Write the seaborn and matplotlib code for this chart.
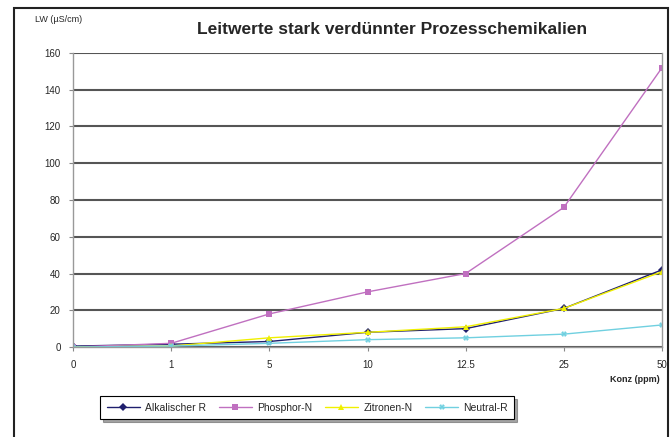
import pandas as pd
import matplotlib.pyplot as plt
import seaborn as sns
from matplotlib.patches import Rectangle

# concentrations (ppm) - shown as evenly spaced categories
konz = ["0", "1", "5", "10", "12.5", "25", "50"]

# conductivity values in uS/cm
alkalischer_r = [0.5, 1.5, 3, 8, 10, 21, 42]
phosphor_n = [0, 2, 18, 30, 40, 76, 152]
zitronen_n = [0, 0.5, 5, 8, 11, 21, 41]
neutral_r = [0, 0.5, 2, 4, 5, 7, 12]

series = ["Alkalischer R", "Phosphor-N", "Zitronen-N", "Neutral-R"]
values = [alkalischer_r, phosphor_n, zitronen_n, neutral_r]

records = []
for name, vals in zip(series, values):
    for i, (k, v) in enumerate(zip(konz, vals)):
        records.append({"pos": i, "Konz": k, "LW": v, "Serie": name})
df = pd.DataFrame(records)

sns.set_style("white")
plt.rcParams['font.family'] = ['Liberation Sans', 'DejaVu Sans']

fig = plt.figure(figsize=(6.71, 4.37), dpi=100)
ax = fig.add_axes([73 / 671, 1 - 347 / 437, (662 - 73) / 671, (347 - 53) / 437])

palette = {"Alkalischer R": "#1f1f6e", "Phosphor-N": "#c070c0",
           "Zitronen-N": "#f0f000", "Neutral-R": "#70d0e0"}
markers = {"Alkalischer R": "D", "Phosphor-N": "s",
           "Zitronen-N": "^", "Neutral-R": "X"}

sns.lineplot(data=df, x="pos", y="LW", hue="Serie", style="Serie",
             hue_order=series, style_order=series, palette=palette,
             markers=markers, dashes=False, markersize=4, linewidth=1.0,
             markeredgewidth=0, ax=ax, legend=True)

ax.set_xlim(0, len(konz) - 1)
ax.set_ylim(0, 160)
ax.set_xticks(range(len(konz)))
ax.set_xticklabels(konz)
ax.set_yticks(range(0, 161, 20))
ax.yaxis.grid(True, color="#555555", linewidth=1.5)
ax.set_axisbelow(True)
ax.tick_params(axis="both", labelsize=7, length=3, color="#888888", direction="out",
               left=True, bottom=True, pad=6)
for s in ax.spines.values():
    s.set_color("#999999")
    s.set_linewidth(1.0)
ax.spines["top"].set_visible(False)
ax.set_xlabel("")
ax.set_ylabel("")

handles, labels = ax.get_legend_handles_labels()
ax.legend_.remove()
leg = fig.legend(handles, labels, loc="center", bbox_to_anchor=(0.458, 0.067),
                 ncol=4, fontsize=7.5, frameon=True, fancybox=False, shadow=True,
                 handlelength=3.2, columnspacing=1.2, handletextpad=0.5,
                 borderpad=0.6, edgecolor="black")
leg.get_frame().set_linewidth(0.8)

fig.text(0.585, 1 - 30 / 437, "Leitwerte stark verdünnter Prozesschemikalien",
         ha="center", va="center", fontsize=12.5, fontweight="bold")
fig.text(35 / 671, 1 - 20 / 437, "LW (µS/cm)", ha="left", va="center", fontsize=6.5)
fig.text(660 / 671, 1 - 380 / 437, "Konz (ppm)", ha="right", va="center",
         fontsize=6.5, fontweight="bold")

fig.patches.append(Rectangle((14 / 671, -0.05), (668 - 14) / 671, 1.05 - 8 / 437,
                             transform=fig.transFigure, fill=False,
                             edgecolor="#222222", linewidth=1.5))

fig.savefig("out.png", dpi=100)
